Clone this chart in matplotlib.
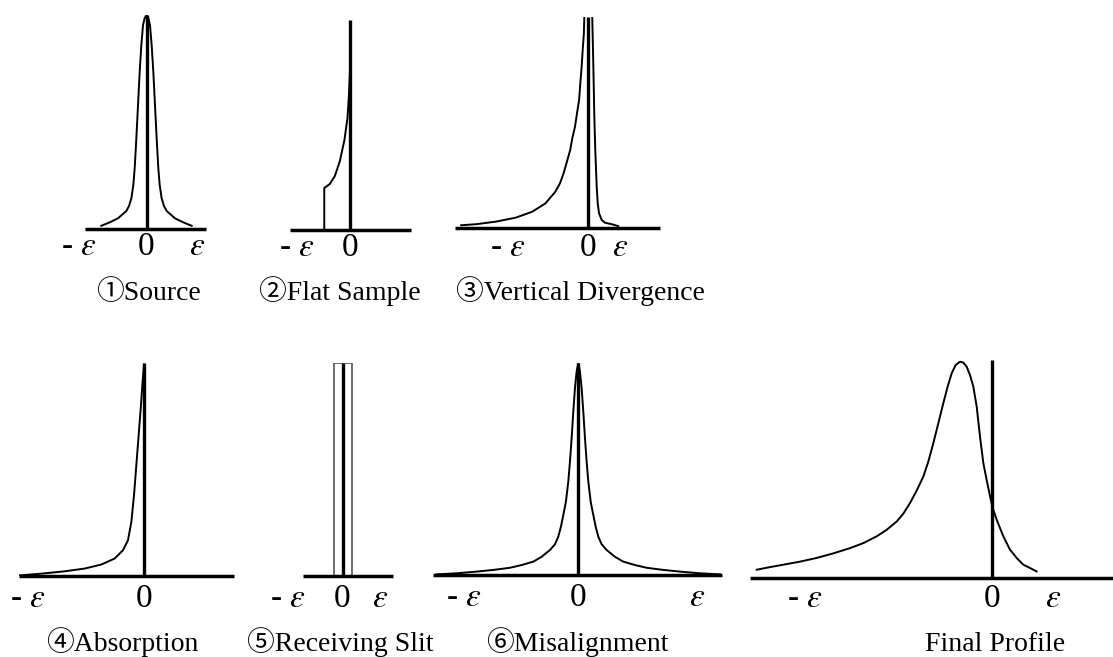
import matplotlib
matplotlib.use('Agg')
import matplotlib.pyplot as plt
from matplotlib.patches import Rectangle

plt.rcParams['font.family'] = ['Liberation Serif', 'Noto Sans CJK JP', 'DejaVu Sans']
plt.rcParams['mathtext.fontset'] = 'stix'

# x in units of epsilon (0 = ideal peak position), y = relative intensity
src_x = [-0.895, -0.729, -0.564, -0.400, -0.347, -0.300, -0.261, -0.234, -0.201,
         -0.168, -0.135, -0.102, -0.069, -0.036, 0.0, 0.036, 0.069, 0.102, 0.135,
         0.168, 0.201, 0.234, 0.261, 0.300, 0.347, 0.400, 0.564, 0.729, 0.895]
src_y = [0.015, 0.031, 0.050, 0.084, 0.107, 0.143, 0.206, 0.284, 0.424,
         0.579, 0.735, 0.860, 0.953, 0.985, 1.0, 0.985, 0.953, 0.860, 0.735,
         0.579, 0.424, 0.284, 0.206, 0.143, 0.107, 0.084, 0.050, 0.031, 0.015]

flat_x = [-0.51, -0.51, -0.40, -0.30, -0.20, -0.11, -0.05, -0.02, 0.0]
flat_y = [0.0, 0.20, 0.219, 0.257, 0.329, 0.429, 0.533, 0.648, 0.762]

vdiv_left_x = [-4.01, -3.54, -2.92, -2.29, -1.77, -1.35, -1.04, -0.893, -0.78,
               -0.681, -0.57, -0.505, -0.42, -0.356, -0.29, -0.252, -0.21,
               -0.177, -0.14, -0.125]
vdiv_left_y = [0.013, 0.018, 0.030, 0.049, 0.077, 0.117, 0.172, 0.212, 0.259,
               0.311, 0.370, 0.425, 0.480, 0.544, 0.607, 0.686, 0.764,
               0.844, 0.920, 1.0]
vdiv_right_x = [0.125, 0.148, 0.17, 0.19, 0.22, 0.265, 0.297, 0.338, 0.423,
                0.527, 0.738, 0.946]
vdiv_right_y = [1.0, 0.844, 0.686, 0.527, 0.370, 0.196, 0.117, 0.070, 0.038,
                0.025, 0.018, 0.009]

absorb_x = [-1.07, -0.885, -0.684, -0.511, -0.367, -0.253, -0.181, -0.138,
            -0.109, -0.086, -0.066, -0.046, -0.028, -0.014, 0.0]
absorb_y = [0.003, 0.011, 0.022, 0.035, 0.054, 0.082, 0.121, 0.168,
            0.254, 0.380, 0.521, 0.662, 0.788, 0.898, 0.992]

slit_edges = [-0.24, 0.24]
slit_height = 1.0

mis_x = [-1.191, -1.023, -0.855, -0.714, -0.575, -0.476, -0.378, -0.308, -0.238,
         -0.196, -0.168, -0.146, -0.126, -0.104, -0.084, -0.070, -0.056, -0.042,
         -0.028, -0.014, 0.0, 0.014, 0.028, 0.042, 0.056, 0.070, 0.084, 0.104,
         0.126, 0.146, 0.168, 0.196, 0.238, 0.308, 0.378, 0.476, 0.575, 0.714,
         0.855, 1.023, 1.191]
mis_y = [0.003, 0.008, 0.016, 0.024, 0.034, 0.047, 0.063, 0.086, 0.118,
         0.145, 0.181, 0.228, 0.283, 0.346, 0.441, 0.535, 0.646, 0.771,
         0.882, 0.960, 1.0, 0.960, 0.882, 0.771, 0.646, 0.535, 0.441, 0.346,
         0.283, 0.228, 0.181, 0.145, 0.118, 0.086, 0.063, 0.047, 0.034, 0.024,
         0.016, 0.008, 0.003]

final_x = [-3.857, -3.639, -3.421, -3.148, -2.874, -2.601, -2.328, -2.110, -1.891,
           -1.727, -1.563, -1.454, -1.344, -1.235, -1.126, -1.044, -0.962, -0.880,
           -0.798, -0.727, -0.661, -0.596, -0.525, -0.470, -0.415, -0.361, -0.306,
           -0.251, -0.197, -0.142, -0.077, 0.005, 0.077, 0.186, 0.295, 0.404,
           0.513, 0.623, 0.732]
final_y = [0.038, 0.050, 0.061, 0.075, 0.092, 0.113, 0.137, 0.160, 0.191,
           0.221, 0.259, 0.295, 0.344, 0.401, 0.465, 0.534, 0.618, 0.710,
           0.802, 0.878, 0.939, 0.977, 0.992, 0.988, 0.969, 0.931, 0.878,
           0.786, 0.649, 0.527, 0.435, 0.327, 0.267, 0.191, 0.130, 0.092,
           0.061, 0.046, 0.030]

NEG = r'- $\varepsilon$'
EPS = r'$\varepsilon$'

titles = ['\u2460Source', '\u2461Flat Sample', '\u2462Vertical Divergence',
          '\u2463Absorption', '\u2464Receiving Slit', '\u2465Misalignment',
          'Final Profile']

W, H = 1113, 657
fig = plt.figure(figsize=(W / 100, H / 100), dpi=100)


def make_panel(zero, scale, base, top, xmin, xmax):
    # place the panel so that x=0 sits at pixel `zero`, 1 eps = `scale` px
    left = zero + xmin * scale
    width = (xmax - xmin) * scale
    ax = fig.add_axes([left / W, 1 - base / H, width / W, (base - top) / H])
    ax.set_xlim(xmin, xmax)
    ax.set_ylim(0, 1)
    ax.set_axis_off()
    ax.axhline(0, color='black', lw=2.5, clip_on=False, solid_capstyle='butt', zorder=3)
    ax.axvline(0, color='black', lw=2.4, clip_on=False, solid_capstyle='butt', zorder=3)
    return ax


def put_labels(ax, ticks, texts, drop):
    for x, t in zip(ticks, texts):
        ax.annotate(t, (x, 0), xytext=(0, -drop), textcoords='offset pixels',
                    ha='center', va='baseline', fontsize=24, annotation_clip=False)


def put_title(x, y, text):
    fig.text(x / W, 1 - y / H, text, ha='center', va='baseline', fontsize=20)


line = dict(color='black', lw=1.4, zorder=2)

# 1 Source
ax = make_panel(146.5, 50.5, 229, 15, -1.22, 1.18)
ax.plot(src_x, src_y, **line)
put_labels(ax, [-1.34, 0, 1], [NEG, '0', EPS], 26)
put_title(148, 300, titles[0])

# 2 Flat sample
ax = make_panel(350, 50.5, 230, 20, -1.19, 1.21)
ax.plot(flat_x, flat_y, **line)
put_labels(ax, [-1.05, 0], [NEG, '0'], 26)
put_title(340, 300, titles[1])

# 3 Vertical divergence
ax = make_panel(588.3, 31.7, 228, 17, -4.2, 2.26)
ax.plot(vdiv_left_x, vdiv_left_y, **line)
ax.plot(vdiv_right_x, vdiv_right_y, **line)
put_labels(ax, [-2.53, 0, 1], [NEG, '0', EPS], 28)
put_title(580, 300, titles[2])

# 4 Absorption
ax = make_panel(144, 116, 576, 363, -1.08, 0.78)
ax.plot(absorb_x, absorb_y, **line)
put_labels(ax, [-1.0, 0], [NEG, '0'], 31)
put_title(122, 651, titles[3])

# 5 Receiving slit
ax = make_panel(342.5, 37.5, 576, 363, -1.05, 1.35)
ax.add_patch(Rectangle((slit_edges[0], 0), slit_edges[1] - slit_edges[0], slit_height,
                       fill=False, edgecolor='#555555', lw=1.2, zorder=2))
put_labels(ax, [-1.45, 0, 1], [NEG, '0', EPS], 31)
put_title(340, 651, titles[4])

# 6 Misalignment
ax = make_panel(578.3, 119, 575, 363, -1.22, 1.21)
ax.plot(mis_x, mis_y, **line)
put_labels(ax, [-0.96, 0, 1], [NEG, '0', EPS], 31)
put_title(577, 651, titles[5])

# Final profile
ax = make_panel(992, 61, 578, 360, -3.97, 2.0)
ax.plot(final_x, final_y, **line)
put_labels(ax, [-3.07, 0, 1], [NEG, '0', EPS], 29)
put_title(995, 651, titles[6])

fig.savefig('out.png', dpi=100)
